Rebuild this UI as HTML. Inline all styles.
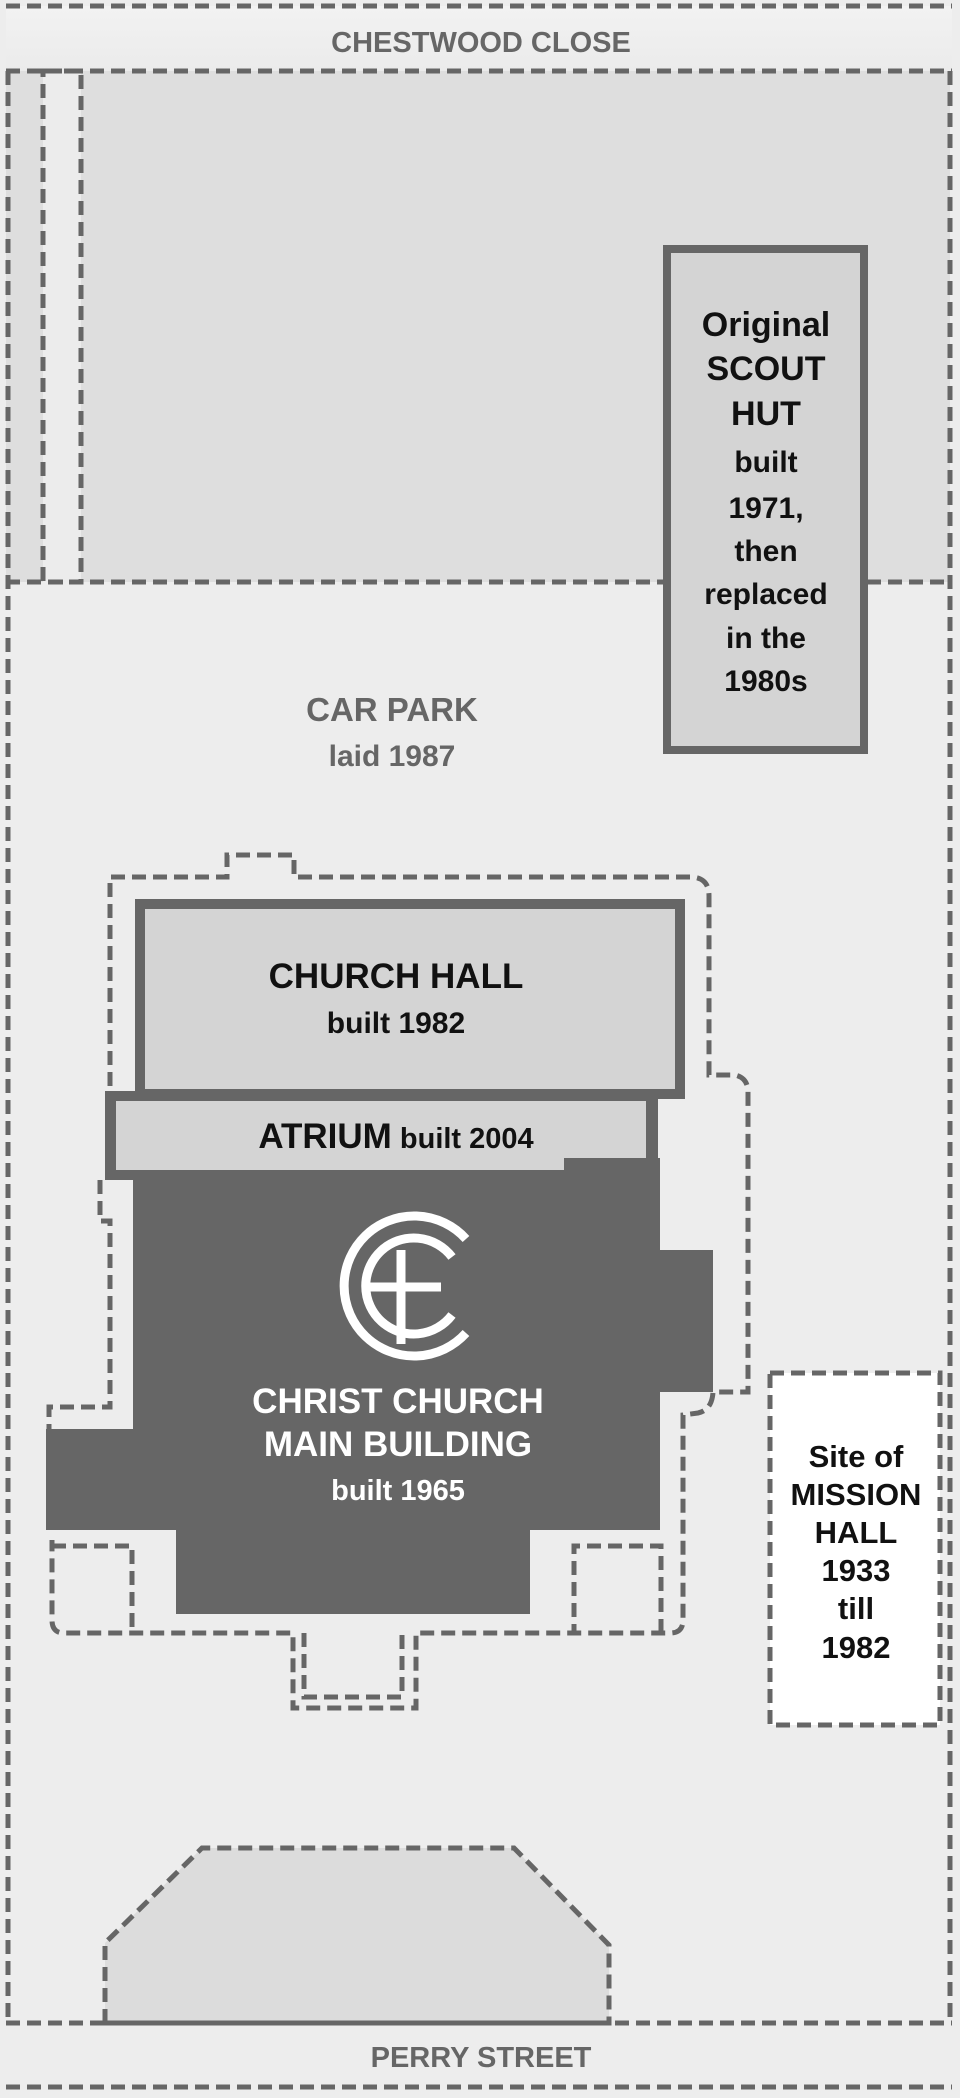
<!DOCTYPE html>
<html><head><meta charset="utf-8"><style>
html,body{margin:0;padding:0;background:#ececec}
svg{display:block}
text{font-family:"Liberation Sans",sans-serif;font-weight:bold;text-anchor:middle}
</style></head><body>
<svg width="960" height="2098" viewBox="0 0 960 2098" xmlns="http://www.w3.org/2000/svg">
<defs>
<linearGradient id="g1" x1="0" y1="0" x2="0" y2="1"><stop offset="0" stop-color="#f2f2f2"/><stop offset="1" stop-color="#ebebeb"/></linearGradient>
</defs>
<rect width="960" height="2098" fill="#ededed"/>
<rect x="6" y="6" width="946" height="65" fill="url(#g1)"/>
<!-- upper grey area -->
<rect x="6" y="71" width="944" height="511" fill="#dedede"/>
<rect x="43" y="71" width="38" height="511" fill="#ececec"/>
<g fill="none" stroke="#666" stroke-width="5" stroke-dasharray="14 7">
<line x1="6" y1="6" x2="952" y2="6"/>
<line x1="6" y1="71" x2="952" y2="71"/>
<line x1="6" y1="582" x2="952" y2="582"/>
<line x1="8" y1="71" x2="8" y2="2023"/>
<line x1="950" y1="71" x2="950" y2="2023"/>
<line x1="6" y1="2023" x2="952" y2="2023"/>
<line x1="6" y1="2087" x2="952" y2="2087"/>
<rect x="43" y="71" width="38" height="511"/>
</g>
<!-- scout hut -->
<rect x="667" y="249" width="197" height="501" fill="#d4d4d4" stroke="#666" stroke-width="8"/>
<g font-size="34" fill="#111">
<text x="766" y="336">Original</text>
<text x="766" y="380">SCOUT</text>
<text x="766" y="425">HUT</text>
</g>
<g font-size="30" fill="#111">
<text x="766" y="472">built</text>
<text x="766" y="518">1971,</text>
<text x="766" y="561">then</text>
<text x="766" y="604">replaced</text>
<text x="766" y="648">in the</text>
<text x="766" y="691">1980s</text>
</g>
<text x="392" y="721" font-size="33" fill="#666">CAR PARK</text>
<text x="392" y="766" font-size="30" fill="#666" font-weight="normal" style="font-weight:600">laid 1987</text>
<!-- church outline -->
<g fill="none" stroke="#666" stroke-width="5" stroke-dasharray="14 7">
<path d="M110 1086 L110 877 L227 877 L227 855 L294 855 L294 877 L690 877 Q709 877 709 896 L709 1075 L735 1075 Q748 1078 748 1092 L748 1392 L713 1392 Q712 1410 698 1413 L683 1415 L683 1620 Q683 1633 670 1633 L416 1633 L416 1708 L293 1708 L293 1633 L64 1633 Q52 1633 52 1620 L52 1540"/>
<path d="M100 1180 L100 1221 L110 1221 L110 1407 L49 1407 L49 1429"/>
<path d="M304 1633 L304 1697 L402 1697 L402 1633"/>
<path d="M52 1546 L132 1546 L132 1633"/>
<path d="M661 1633 L661 1546 L574 1546 L574 1633"/>
</g>
<!-- church hall -->
<rect x="140" y="904" width="540" height="190" fill="#d4d4d4" stroke="#666" stroke-width="10"/>
<text x="396" y="988" font-size="35" fill="#111">CHURCH HALL</text>
<text x="396" y="1033" font-size="30" fill="#111">built 1982</text>
<!-- atrium -->
<rect x="105" y="1091" width="553" height="89" fill="#666"/>
<rect x="116" y="1101" width="530" height="69" fill="#d4d4d4"/>
<rect x="564" y="1160" width="94" height="12" fill="#666"/>
<text x="396" y="1148"><tspan font-size="35" fill="#111">ATRIUM</tspan><tspan font-size="29" fill="#111"> built 2004</tspan></text>
<!-- main building -->
<path d="M133 1180 L564 1180 L564 1158 L660 1158 L660 1250 L713 1250 L713 1392 L660 1392 L660 1530 L530 1530 L530 1614 L176 1614 L176 1530 L46 1530 L46 1429 L133 1429 Z" fill="#666"/>
<!-- logo -->
<g fill="none" stroke="#fff" stroke-width="9">
<path d="M466 1239 A70 70 0 1 0 466 1333"/>
<path d="M452 1257 A48 48 0 1 0 452 1315"/>
</g>
<g stroke="#fff" stroke-width="9">
<line x1="401" y1="1250" x2="401" y2="1344"/>
<line x1="367" y1="1287" x2="441" y2="1287"/>
</g>
<text x="398" y="1413" font-size="35" fill="#fff">CHRIST CHURCH</text>
<text x="398" y="1456" font-size="35" fill="#fff">MAIN BUILDING</text>
<text x="398" y="1500" font-size="29" fill="#fff">built 1965</text>
<!-- mission hall -->
<rect x="770" y="1373" width="170" height="352" fill="#fff" stroke="#666" stroke-width="5" stroke-dasharray="14 7"/>
<g font-size="31" fill="#111">
<text x="856" y="1467">Site of</text>
<text x="856" y="1505">MISSION</text>
<text x="856" y="1543">HALL</text>
<text x="856" y="1581">1933</text>
<text x="856" y="1619">till</text>
<text x="856" y="1658">1982</text>
</g>
<!-- bottom trapezoid -->
<path d="M105 2023 L105 1943 L202 1848 L514 1848 L609 1945 L609 2023 Z" fill="#dcdcdc" stroke="#666" stroke-width="5" stroke-dasharray="14 7"/>
<line x1="6" y1="2023" x2="952" y2="2023" stroke="#666" stroke-width="5" stroke-dasharray="14 7"/>
<text x="481" y="42" font-size="0"></text>
<text x="481" y="52" font-size="29" fill="#666">CHESTWOOD CLOSE</text>
<text x="481" y="2067" font-size="29" fill="#666">PERRY STREET</text>
</svg>
</body></html>
